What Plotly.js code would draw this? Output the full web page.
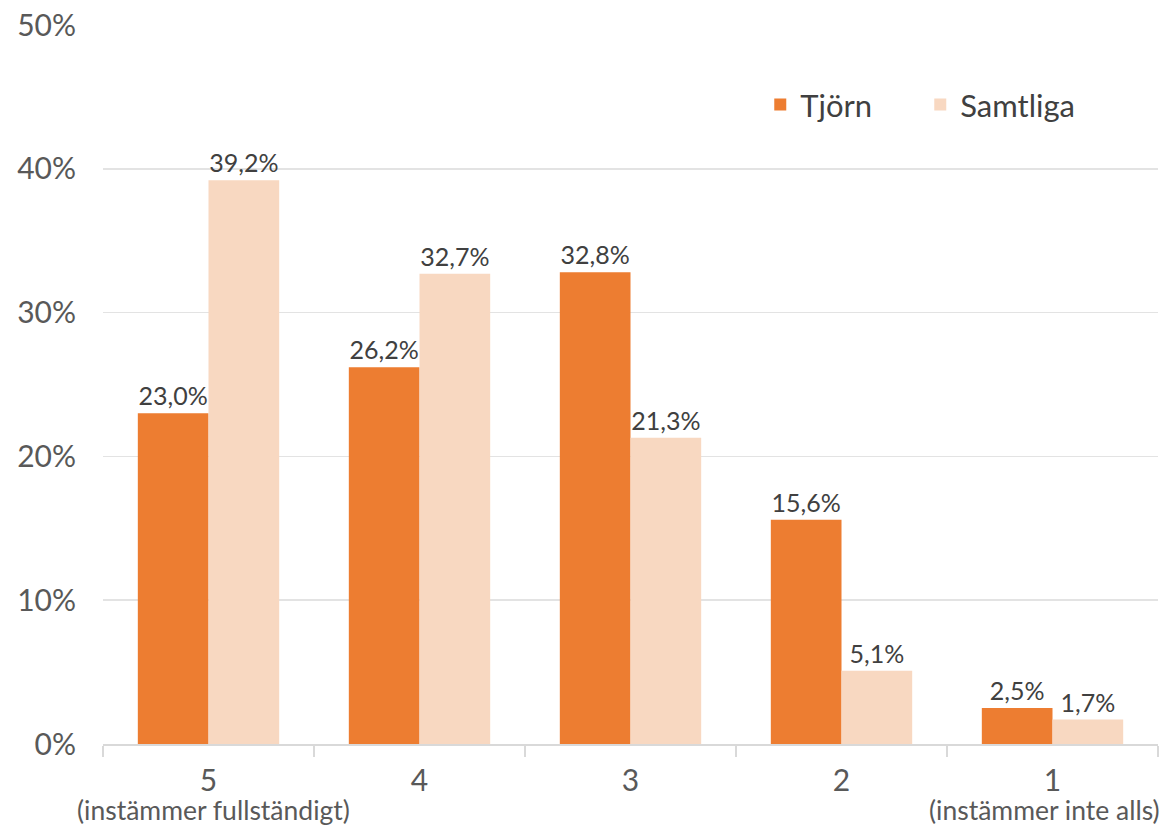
<!DOCTYPE html>
<html><head><meta charset="utf-8">
<script src="https://cdn.plot.ly/plotly-3.0.1.min.js"></script>
<style>html,body{margin:0;padding:0;background:#fff}#chart{width:1167px;height:829px}</style>
</head><body><div id="chart"></div>
<script>
const categories = ['5', '4', '3', '2', '1'];
const tjorn = [0.230, 0.262, 0.328, 0.156, 0.025];
const samtliga = [0.392, 0.327, 0.213, 0.051, 0.017];
const seriesNames = ['Tjörn', 'Samtliga'];
const subLabels = ['(instämmer fullständigt)', '', '', '', '(instämmer inte alls)'];
const yTicks = [0, 0.1, 0.2, 0.3, 0.4, 0.5];

const FONT = 'Lato, "Open Sans", sans-serif';
const labelFont = {family: FONT, size: 25, color: '#404040'};

const traces = [
  {type: 'bar', name: seriesNames[0], x: categories, y: tjorn,
   marker: {color: '#ED7D31'}, texttemplate: '%{y:.1%}', textposition: 'outside',
   textfont: labelFont, cliponaxis: false, hoverinfo: 'none'},
  {type: 'bar', name: seriesNames[1], x: categories, y: samtliga,
   marker: {color: '#F8D8C1'}, texttemplate: '%{y:.1%}', textposition: 'outside',
   textfont: labelFont, cliponaxis: false, hoverinfo: 'none'}
];

const annotations = [];
subLabels.forEach((t, i) => {
  if (!t) return;
  const last = i === categories.length - 1;
  annotations.push({
    x: i, xref: 'x', y: 0, yref: 'paper', yshift: -66, yanchor: 'middle',
    text: t, showarrow: false, borderpad: 0,
    xanchor: last ? 'right' : 'center', xshift: last ? 108 : 5,
    font: {family: FONT, size: 26.5, color: '#595959'}
  });
});

const layout = {
  width: 1167, height: 829,
  margin: {l: 103, r: 9, t: 25, b: 85},
  paper_bgcolor: '#fff', plot_bgcolor: '#fff',
  separators: ', ',
  font: {family: FONT, color: '#595959'},
  barmode: 'group', bargap: 0.33, bargroupgap: 0,
  showlegend: true,
  legend: {orientation: 'h', x: 0.623, y: 0.889, xanchor: 'left', yanchor: 'middle',
           font: {family: FONT, size: 31, color: '#404040'}, itemwidth: 30,
           entrywidth: 115, entrywidthmode: 'pixels',
           tracegroupgap: 0, bgcolor: 'rgba(0,0,0,0)'},
  xaxis: {type: 'category', range: [-0.5, categories.length - 0.5], autorange: false,
          tickson: 'boundaries', ticks: 'outside', ticklen: 11, ticklabelstandoff: 9,
          tickcolor: '#D9D9D9', tickwidth: 2, showline: true, linecolor: '#D9D9D9', linewidth: 2,
          tickfont: {family: FONT, size: 30, color: '#595959'}, showgrid: false, fixedrange: true},
  yaxis: {range: [0, 0.5], autorange: false, tickvals: yTicks, tickformat: '.0%', showgrid: true,
          gridcolor: '#E3E3E3', gridwidth: 1.5, zeroline: false, showline: false,
          ticklabelstandoff: 26,
          tickfont: {family: FONT, size: 30, color: '#595959'}, fixedrange: true},
  annotations: annotations
};

Plotly.newPlot('chart', traces, layout, {displayModeBar: false, staticPlot: true});
</script></body></html>
